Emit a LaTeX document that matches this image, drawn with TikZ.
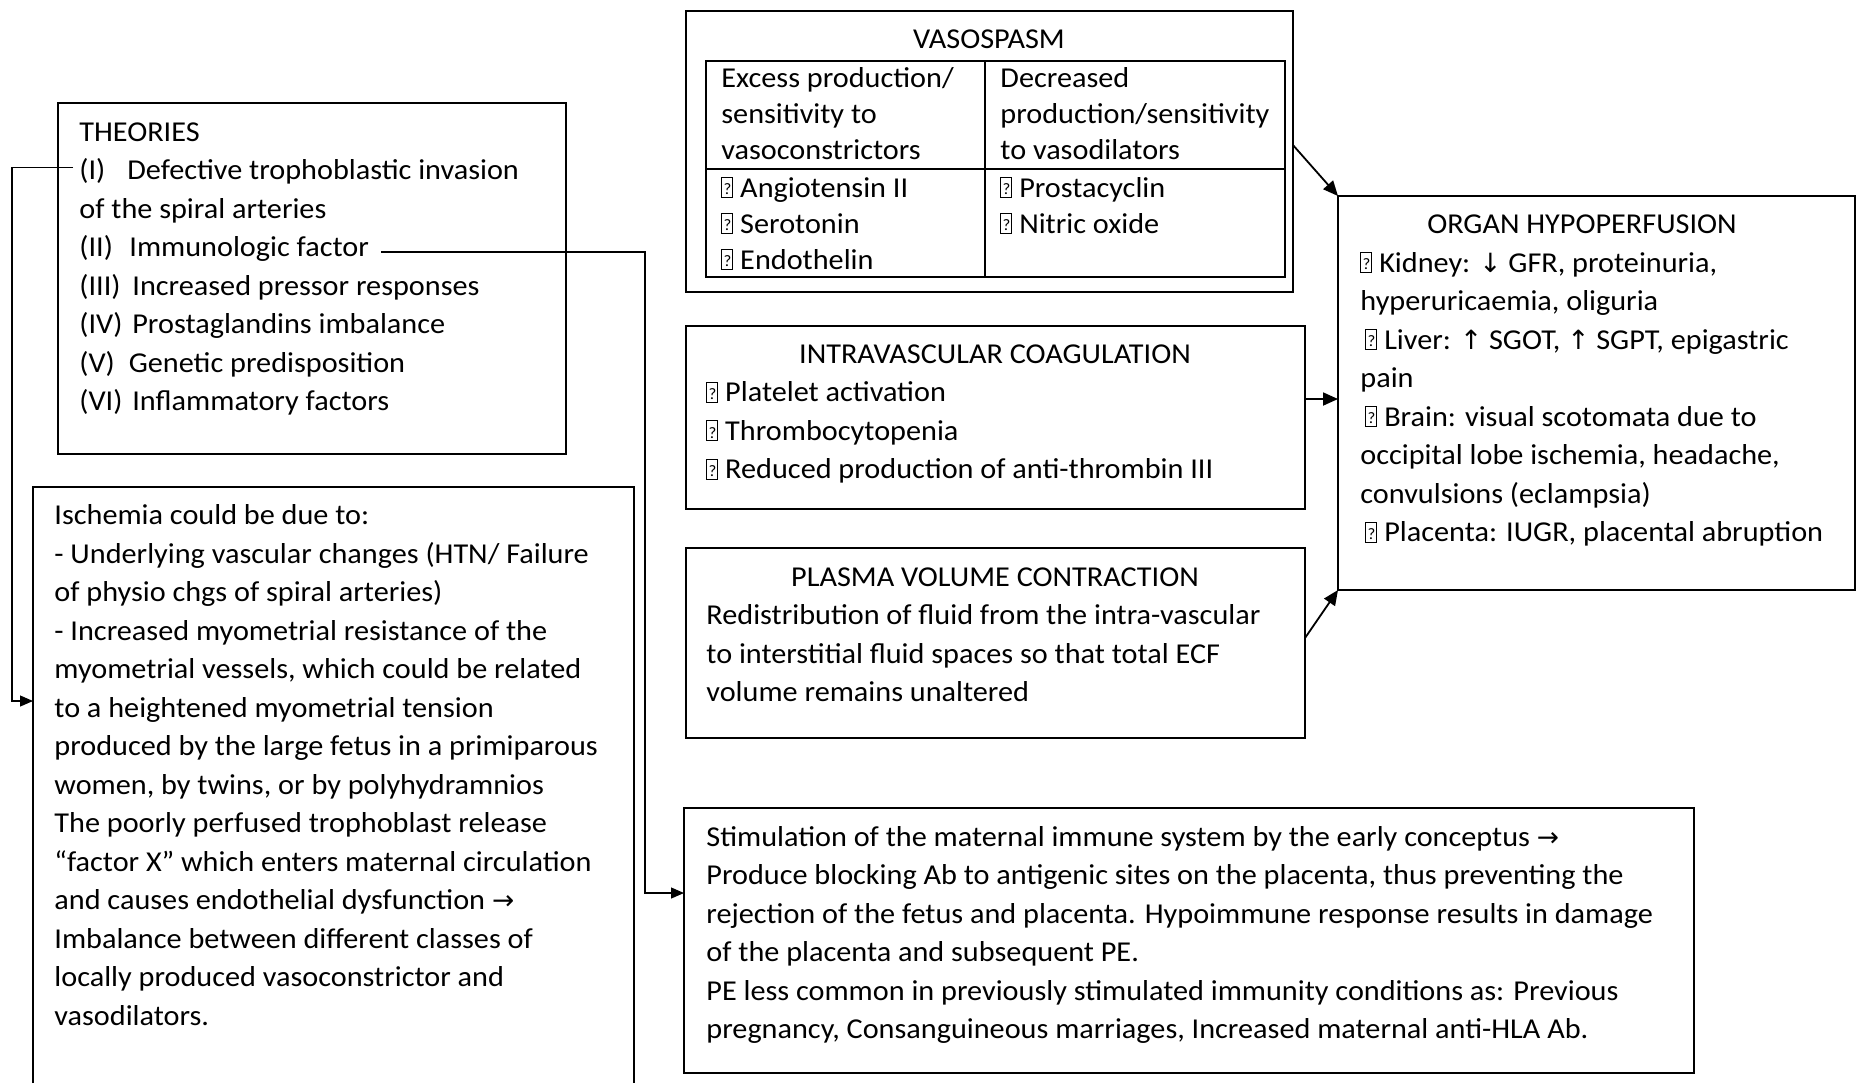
\documentclass[tikz,border=0pt]{standalone}
\usepackage{fontspec}
\setmainfont{Carlito}[FakeStretch=1.05]
\newfontfamily\symfont{DejaVu Sans}[Scale=0.92]
\usetikzlibrary{arrows.meta,fit}

% placeholder glyph box used as bullet
\newcommand\tofu{{\fboxsep=0pt\fboxrule=0.5pt\fbox{\makebox[5pt]{\rule{0pt}{9.6pt}\raisebox{1.2pt}{\fontsize{8pt}{8pt}\selectfont ?}}}}}
% fixes the height of the first line of a text block
\newcommand\topstrut{\rule{0pt}{14pt}}
\newcommand\lab[2]{\makebox[#1][l]{#2}}
\newcommand\rarr{{\symfont →}}
\newcommand\uarr{{\symfont ↑}}
\newcommand\darr{{\symfont ↓}}

\tikzset{
  box/.style={draw, line width=0.7pt, inner sep=0pt, outer sep=0pt},
  tablebox/.style={draw, line width=0.9pt, inner sep=0pt, outer sep=0pt},
  textblock/.style={anchor=north west, inner sep=0pt, align=left,
    font=\fontsize{14.4pt}{19.25pt}\selectfont},
  cellblock/.style={textblock, font=\fontsize{14.4pt}{18pt}\selectfont},
  textline/.style={anchor=base west, inner sep=0pt,
    font=\fontsize{14.4pt}{19.25pt}\selectfont},
  boxtitle/.style={anchor=base, inner sep=0pt,
    font=\fontsize{14.4pt}{19.25pt}\selectfont},
  conn/.style={line width=0.6pt, -{Triangle[length=6.5pt,width=5.5pt]}},
  arr/.style={line width=0.9pt, -{Triangle[length=7.5pt,width=6.5pt]}},
}

\begin{document}
\begin{tikzpicture}[x=0.5pt,y=-0.5pt]
\fill[white] (0,0) rectangle (1863,1083);
\useasboundingbox (0,0) rectangle (1863,1083);

% ---------- boxes ----------
\node[box, fit={(58,103) (566,454)}] (theo) {};
\node[inner sep=0pt, outer sep=0pt, fit={(33,487) (634,1083)}] (isch) {};
\draw[line width=0.7pt] (isch.south west) -- (isch.north west) -- (isch.north east) -- (isch.south east);
\node[box, fit={(686,11) (1293,292)}] (vaso) {};
\node[tablebox, fit={(706,61) (1285,277)}] (vtab) {};
\coordinate (vcross) at (985,169);
\draw[line width=0.9pt] (vcross |- vtab.north) -- (vcross |- vtab.south);
\draw[line width=0.9pt] (vcross -| vtab.west) -- (vcross -| vtab.east);
\node[box, fit={(686,326) (1305,509)}] (intra) {};
\node[box, fit={(686,548) (1305,738)}] (plasma) {};
\node[box, fit={(1338,196) (1855,590)}] (organ) {};
\node[box, fit={(684,808) (1694,1073)}] (stim) {};

% ---------- theories ----------
\node[textline] (th0) at (79,141) {THEORIES};
\node[textline] (th1) at (79,179.5) {\lab{24pt}{(I)}Defective trophoblastic invasion};
\node[textline] (th1b) at (79,218) {of the spiral arteries};
\node[textline] (th2) at (79,256.5) {\lab{25pt}{(II)}Immunologic factor};
\node[textline] (th3) at (79,295) {\lab{26.5pt}{(III)}Increased pressor responses};
\node[textline] (th4) at (79,333.5) {\lab{26.5pt}{(IV)}Prostaglandins imbalance};
\node[textline] (th5) at (79,372) {\lab{24.7pt}{(V)}Genetic predisposition};
\node[textline] (th6) at (79,410.5) {\lab{26.5pt}{(VI)}Inflammatory factors};

% ---------- ischemia ----------
\node[textblock] (ischtxt) at (54,496.5) {\topstrut Ischemia could be due to:\\
- Underlying vascular changes (HTN/ Failure\\
of physio chgs of spiral arteries)\\
- Increased myometrial resistance of the\\
myometrial vessels, which could be related\\
to a heightened myometrial tension\\
produced by the large fetus in a primiparous\\
women, by twins, or by polyhydramnios\\
The poorly perfused trophoblast release\\
“factor X” which enters maternal circulation\\
and causes endothelial dysfunction \rarr\\
Imbalance between different classes of\\
locally produced vasoconstrictor and\\
vasodilators.};

% ---------- vasospasm ----------
\node[boxtitle] (vasot) at (989,48) {VASOSPASM};
\node[cellblock] (c11) at (721,59.3) {\topstrut Excess production/\\sensitivity to\\vasoconstrictors};
\node[cellblock] (c12) at (1000,59.3) {\topstrut Decreased\\production/sensitivity\\to vasodilators};
\node[cellblock] (c21) at (721,168.7) {\topstrut\tofu{} Angiotensin II\\\tofu{} Serotonin\\\tofu{} Endothelin};
\node[cellblock] (c22) at (1000,168.7) {\topstrut\tofu{} Prostacyclin\\\tofu{} Nitric oxide};

% ---------- intravascular coagulation ----------
\node[boxtitle] (intrat) at (995,363) {INTRAVASCULAR COAGULATION};
\node[textblock] (intratxt) at (706,373.5) {\topstrut\tofu{} Platelet activation\\
\tofu{} Thrombocytopenia\\
\tofu{} Reduced production of anti-thrombin III};

% ---------- plasma volume ----------
\node[boxtitle] (plasmat) at (995,586) {PLASMA VOLUME CONTRACTION};
\node[textblock] (plasmatxt) at (706,596.5) {\topstrut Redistribution of fluid from the intra-vascular\\
to interstitial fluid spaces so that total ECF\\
volume remains unaltered};

% ---------- organ hypoperfusion ----------
\node[boxtitle] (organt) at (1582,233.3) {ORGAN HYPOPERFUSION};
\node[textblock] (organtxt) at (1360,243.8) {\topstrut\tofu{} Kidney: \darr{} GFR, proteinuria,\\
hyperuricaemia, oliguria\\
\hspace*{2.5pt}\tofu{} Liver: \uarr{} SGOT, \uarr{} SGPT, epigastric\\
pain\\
\hspace*{2.5pt}\tofu{} Brain: visual scotomata due to\\
occipital lobe ischemia, headache,\\
convulsions (eclampsia)\\
\hspace*{2.5pt}\tofu{} Placenta: IUGR, placental abruption};

% ---------- immunologic ----------
\node[textblock] (stimtxt) at (706,818) {\topstrut Stimulation of the maternal immune system by the early conceptus \rarr\\
Produce blocking Ab to antigenic sites on the placenta, thus preventing the\\
rejection of the fetus and placenta. Hypoimmune response results in damage\\
of the placenta and subsequent PE.\\
PE less common in previously stimulated immunity conditions as: Previous\\
pregnancy, Consanguineous marriages, Increased maternal anti-HLA Ab.};

% ---------- connectors ----------
\coordinate (bendI) at (12,701);
\draw[conn] ([shift={(-3pt,1.8pt)}]th1.west) -| (bendI) -- (isch.west |- bendI);
\coordinate (bendII) at (645,893);
\draw[conn] ([shift={(6pt,-1.75pt)}]th2.east) -| (bendII) -- (stim.west |- bendII);

\draw[arr] ([yshift=3.2pt]vaso.east) -- (organ.north west);
\draw[arr] ([yshift=9.25pt]intra.east) -- ([yshift=9.25pt]intra.east -| organ.west);
\draw[arr] ([yshift=2.5pt]plasma.east) -- (organ.south west);
\end{tikzpicture}
\end{document}
